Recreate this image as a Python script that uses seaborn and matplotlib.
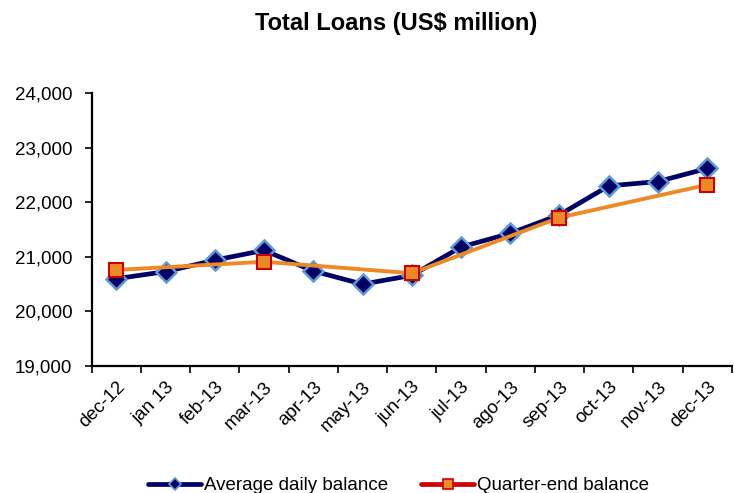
import pandas as pd
import seaborn as sns
import numpy as np
import matplotlib.pyplot as plt
from matplotlib.lines import Line2D

# data
months = ['dec-12', 'jan 13', 'feb-13', 'mar-13', 'apr-13', 'may-13', 'jun-13',
          'jul-13', 'ago-13', 'sep-13', 'oct-13', 'nov-13', 'dec-13']
avg_daily = [20600, 20730, 20940, 21120, 20740, 20500, 20660,
             21180, 21430, 21770, 22300, 22380, 22620]
quarter_end = [20760, np.nan, np.nan, 20910, np.nan, np.nan, 20700,
               np.nan, np.nan, 21720, np.nan, np.nan, 22320]

df = pd.DataFrame({'month': months, 'avg': avg_daily, 'qe': quarter_end})
df['pos'] = np.arange(len(df))
qe = df.dropna(subset=['qe'])

sns.set_style('ticks')
plt.rcParams['font.family'] = ['Liberation Sans', 'DejaVu Sans']
plt.rcParams['text.color'] = 'black'
plt.rcParams['xtick.color'] = 'black'
plt.rcParams['ytick.color'] = 'black'

fig = plt.figure(figsize=(7.34, 4.93), dpi=100)
ax = fig.add_axes([0.125, 0.2576, 0.872, 0.5535])

navy = '#000066'
light_blue = '#5B9BD5'
orange = '#EE8A26'
red = '#CC0000'

sns.lineplot(data=df, x='pos', y='avg', ax=ax, color=navy, linewidth=3.4,
             marker='D', markersize=10.5, markerfacecolor=navy,
             markeredgecolor=light_blue, markeredgewidth=1.8, zorder=3)
sns.lineplot(data=qe, x='pos', y='qe', ax=ax, color=orange, linewidth=2.8,
             marker='s', markersize=10, markerfacecolor=orange,
             markeredgecolor=red, markeredgewidth=1.5, zorder=4)

ax.set_xlim(-0.5, len(months) - 0.5)
ax.set_ylim(19000, 24000)
ax.set_yticks(np.arange(19000, 24001, 1000))
ax.set_yticklabels([f'{v:,}' for v in range(19000, 24001, 1000)], fontsize=13.5)

# category labels centred, tick marks on boundaries
ax.set_xticks(df['pos'])
ax.set_xticklabels(months, rotation=45, ha='right', rotation_mode='anchor',
                   fontsize=13.5)
ax.tick_params(axis='x', which='major', length=0, pad=9)
ax.set_xticks(np.arange(-0.5, len(months)), minor=True)
ax.tick_params(axis='x', which='minor', length=5, width=1.2, direction='out')
ax.tick_params(axis='y', length=5, width=1.2, direction='out', pad=9)

ax.set_xlabel('')
ax.set_ylabel('')
for s in ['top', 'right']:
    ax.spines[s].set_visible(False)
for s in ['left', 'bottom']:
    ax.spines[s].set_linewidth(1.6)
    ax.spines[s].set_color('black')

fig.text(0.54, 0.953, 'Total Loans (US$ million)', ha='center', va='center',
         fontsize=17, fontweight='bold')

handles = [
    Line2D([], [], color=navy, linewidth=3.4, marker='D', markersize=6,
           markerfacecolor=navy, markeredgecolor=light_blue, markeredgewidth=1.2),
    Line2D([], [], color=red, linewidth=3.4, marker='s', markersize=7.5,
           markerfacecolor=orange, markeredgecolor=red, markeredgewidth=1.2),
]
fig.legend(handles, ['Average daily balance', 'Quarter-end balance'],
           loc='center', bbox_to_anchor=(0.543, 0.015), ncol=2, frameon=False,
           fontsize=13.5, handlelength=2.8, columnspacing=1.8, handletextpad=0.15)

fig.savefig('out.png', dpi=100)
